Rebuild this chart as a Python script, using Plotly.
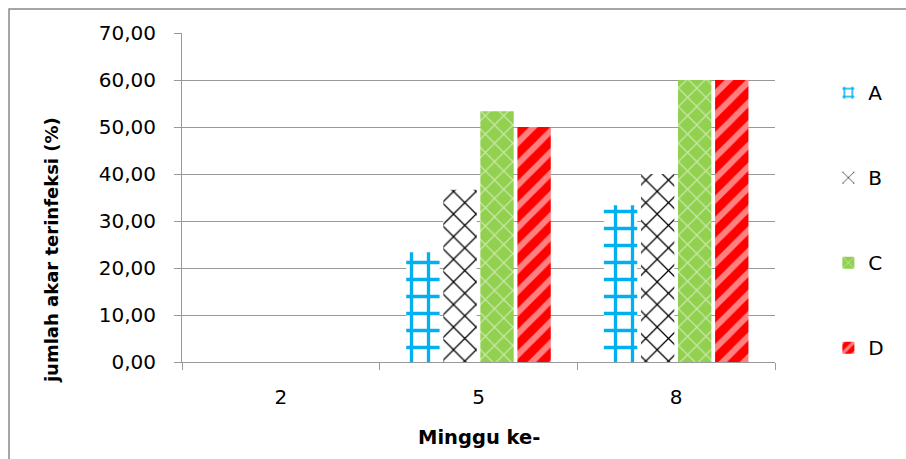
import plotly.graph_objects as go

# Weeks after inoculation (x categories)
weeks = ["2", "5", "8"]

# Percentage of infected roots per treatment
series_names = ["A", "B", "C", "D"]
values_a = [0.0, 23.33, 33.33]
values_b = [0.0, 36.67, 40.0]
values_c = [0.0, 53.33, 60.0]
values_d = [0.0, 50.0, 60.0]

y_ticks = [0, 10, 20, 30, 40, 50, 60, 70]
y_tick_labels = ["0,00", "10,00", "20,00", "30,00", "40,00", "50,00", "60,00", "70,00"]

FONT = "DejaVu Sans"
GRID = "#999999"

styles = [
    dict(color="white", pattern=dict(shape="+", fgcolor="#00B0F0", bgcolor="white",
                                      size=17, solidity=0.35, fillmode="replace")),
    dict(color="white", pattern=dict(shape="x", fgcolor="black", bgcolor="white",
                                      size=16, solidity=0.15, fillmode="replace")),
    dict(color="#92D050", pattern=dict(shape="x", fgcolor="white",
                                        size=13, solidity=0.18, fillmode="overlay")),
    dict(color="#FF0000", pattern=dict(shape="/", fgcolor="white",
                                        size=15, solidity=0.4, fillmode="overlay")),
]

fig = go.Figure()
for name, vals, st in zip(series_names, [values_a, values_b, values_c, values_d], styles):
    fig.add_trace(go.Bar(
        x=weeks, y=vals, name=name, legendgroup=name,
        marker=dict(color=st["color"], pattern=st["pattern"], line=dict(width=0)),
    ))

fig.update_layout(
    width=906, height=459,
    margin=dict(l=182, r=131, t=33, b=97),
    paper_bgcolor="white", plot_bgcolor="white",
    barmode="group", bargap=0.25, bargroupgap=0.1,
    font=dict(family=FONT, size=20, color="black"),
    showlegend=True,
    legend=dict(x=1.09, y=0.878, xanchor="left", yanchor="top",
                tracegroupgap=56, font=dict(family=FONT, size=20),
                itemsizing="constant", bgcolor="rgba(0,0,0,0)"),
    xaxis=dict(
        type="category", showgrid=False, showline=True, linecolor=GRID, linewidth=1,
        ticks="outside", ticklen=7, tickcolor=GRID, tickson="boundaries",
        ticklabelstandoff=17, tickfont=dict(family=FONT, size=20),
    ),
    yaxis=dict(
        range=[0, 70], tickvals=y_ticks, ticktext=y_tick_labels,
        showgrid=True, gridcolor=GRID, gridwidth=1,
        showline=True, linecolor=GRID, linewidth=1,
        ticks="outside", ticklen=7, tickcolor=GRID,
        ticklabelstandoff=14, tickfont=dict(family=FONT, size=20),
        zeroline=False,
    ),
    annotations=[
        dict(text="<b>jumlah akar terinfeksi (%)</b>", textangle=-90,
             xref="paper", yref="paper", x=-0.221, y=0.34,
             xanchor="center", yanchor="middle", showarrow=False,
             font=dict(family=FONT, size=18)),
        dict(text="<b>Minggu ke-</b>", xref="paper", yref="paper",
             x=0.5, y=-0.23, xanchor="center", yanchor="middle", showarrow=False,
             font=dict(family=FONT, size=19.5)),
    ],
    shapes=[
        dict(type="rect", xref="paper", yref="paper",
             x0=-0.2917, x1=1.4, y0=-0.5, y1=1.073,
             line=dict(color="#888888", width=1.5), fillcolor="rgba(0,0,0,0)",
             layer="below"),
    ],
)

fig.write_html("out.html")
